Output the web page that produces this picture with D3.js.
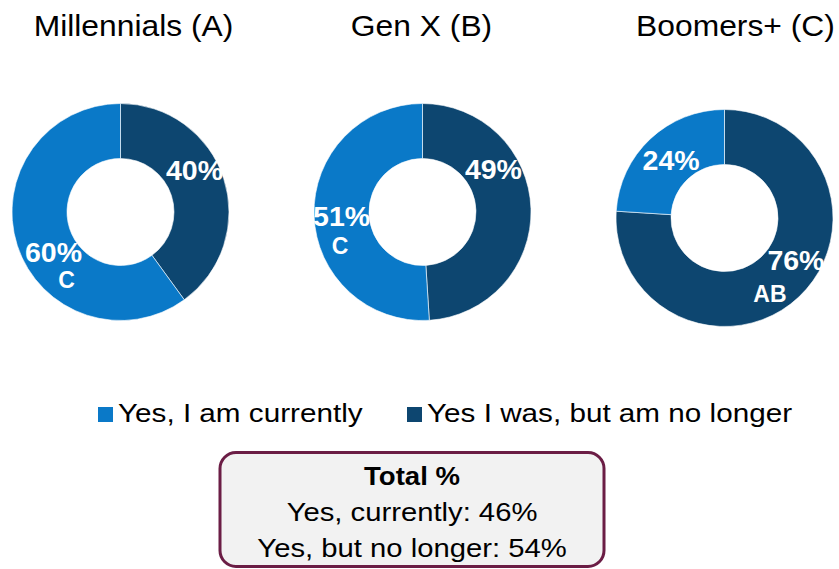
<!DOCTYPE html>
<html>
<head>
<meta charset="utf-8">
<script src="https://cdn.jsdelivr.net/npm/d3@7"></script>
<style>
  body { margin: 0; background: #fff; }
  svg { display: block; font-family: "Liberation Sans", Arial, sans-serif; }
</style>
</head>
<body>
<div id="chart"></div>
<script>
// Data
const groups = ["Millennials (A)", "Gen X (B)", "Boomers+ (C)"];
const seriesNames = ["Yes, I am currently", "Yes I was, but am no longer"];
const currently = [60, 51, 24];
const noLonger = [40, 49, 76];
const currentlySig = ["C", "C", ""];
const noLongerSig = ["", "", "AB"];
const totalTitle = "Total %";
const totalLabels = ["Yes, currently:", "Yes, but no longer:"];
const totalValues = [46, 54];

// Layout
const width = 839, height = 569;
const outerR = 108.5, innerR = 53.5;
const cy = 212;
const panelDy = [0, 0, 6];
const titleDx = [13, -1, 11];
const colors = { currently: "#0a79c8", noLonger: "#0d4670" };
// label nudges from arc centroid: [dx, dy] for pct, [dx, dy] for sig letters relative to pct
const labelNudge = {
    noLonger: [[-3, -17], [-10, -40], [16, -17]],
    currently: [[10, 15], [0, 1], [2, 1]]
};
const sigNudge = {
    noLonger: [[0, 0], [0, 0], [-26, 34]],
    currently: [[13, 28], [-1.5, 30], [0, 0]]
};

const svg = d3.select("#chart").append("svg")
    .attr("width", width)
    .attr("height", height);

const x = d3.scalePoint()
    .domain(groups)
    .range([120.5, 724.5]);

const pie = d3.pie().sort(null).value(d => d.value);
const arc = d3.arc().innerRadius(innerR).outerRadius(outerR);

// stretched text helper (source fonts render a bit wider)
function wideText(g, tx, ty, str, size, sx, weight, anchor) {
    return g.append("text")
        .attr("transform", `translate(${tx},${ty}) scale(${sx},1)`)
        .attr("text-anchor", anchor || "middle")
        .attr("font-size", size)
        .attr("font-weight", weight || "normal")
        .attr("fill", "#000")
        .text(str);
}

groups.forEach((name, i) => {
    const cx = x(name);
    const cyi = cy + panelDy[i];

    wideText(svg, cx + titleDx[i], 35.5, name, 30, 1.06);

    const slices = [
        { key: "noLonger", value: noLonger[i], sig: noLongerSig[i] },
        { key: "currently", value: currently[i], sig: currentlySig[i] }
    ];

    const g = svg.append("g").attr("transform", `translate(${cx},${cyi})`);

    const arcs = pie(slices);

    g.selectAll("path")
        .data(arcs)
        .enter()
        .append("path")
        .attr("d", arc)
        .attr("fill", d => colors[d.data.key])
        .attr("stroke", "#ffffff")
        .attr("stroke-width", 0.6);

    arcs.forEach(d => {
        const [mx, my] = arc.centroid(d);
        const n = labelNudge[d.data.key][i];
        const px = mx + n[0], py = my + n[1];
        g.append("text")
            .attr("x", px)
            .attr("y", py + 10)
            .attr("text-anchor", "middle")
            .attr("font-size", 28.5)
            .attr("font-weight", "bold")
            .attr("fill", "#fff")
            .text(d.data.value + "%");
        if (d.data.sig) {
            const s = sigNudge[d.data.key][i];
            g.append("text")
                .attr("x", px + s[0])
                .attr("y", py + s[1] + 8)
                .attr("text-anchor", "middle")
                .attr("font-size", 23)
                .attr("font-weight", "bold")
                .attr("fill", "#fff")
                .text(d.data.sig);
        }
    });
});

// Legend
const legendItems = [
    { name: seriesNames[0], color: colors.currently, x: 98 },
    { name: seriesNames[1], color: colors.noLonger, x: 407 }
];
legendItems.forEach(item => {
    svg.append("rect")
        .attr("x", item.x)
        .attr("y", 407)
        .attr("width", 15)
        .attr("height", 15)
        .attr("fill", item.color);
    wideText(svg, item.x + 20, 422, item.name, 26.5, 1.12, "normal", "start");
});

// Total box
const box = svg.append("g");
box.append("rect")
    .attr("x", 220)
    .attr("y", 452.5)
    .attr("width", 384)
    .attr("height", 114)
    .attr("rx", 16)
    .attr("fill", "#f2f2f2")
    .attr("stroke", "#6b1d45")
    .attr("stroke-width", 3);
wideText(box, 412, 485, totalTitle, 25.5, 1.08, "bold");
totalLabels.forEach((lbl, j) => {
    wideText(box, 412, 521 + j * 36, `${lbl} ${totalValues[j]}%`, 25, 1.17);
});
</script>
</body>
</html>
